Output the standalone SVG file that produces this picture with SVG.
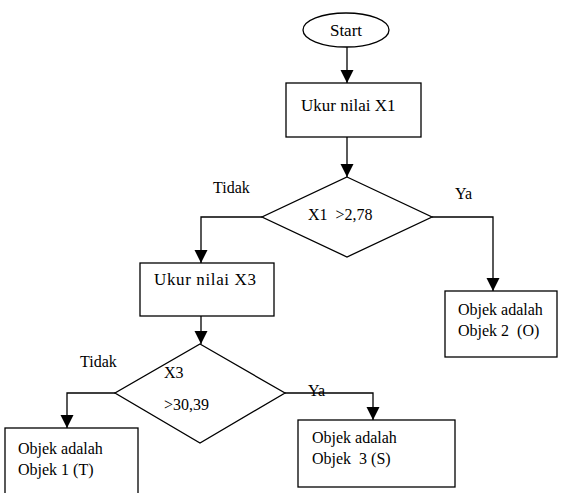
<svg xmlns="http://www.w3.org/2000/svg" width="563" height="493" viewBox="0 0 563 493">
<style>
.s{fill:#fff;stroke:#000;stroke-width:1.3}
.c{fill:none;stroke:#000;stroke-width:1.3;marker-end:url(#ah)}
.t{font-family:'Liberation Serif','Times New Roman',Times,serif;font-size:16px;fill:#000}
.b{font-size:17px}
</style>
<defs>
<marker id="ah" markerUnits="userSpaceOnUse" markerWidth="14" markerHeight="14" refX="13" refY="7" orient="auto">
<path d="M0,0.5 L13,7 L0,13.5 z" fill="#000"/>
</marker>
</defs>
<rect width="563" height="493" fill="#fff"/>
<g id="connectors">
<polyline class="c" points="347,47 347,83"/>
<polyline class="c" points="347,137 347,177"/>
<polyline class="c" points="262,217 201,217 201,263"/>
<polyline class="c" points="432,217 493,217 493,291"/>
<polyline class="c" points="201,316 201,344"/>
<polyline class="c" points="115,393 67,393 67,428"/>
<polyline class="c" points="285,393 373,393 373,420"/>
<text class="t" x="213" y="193">Tidak</text>
<text class="t" x="455" y="199">Ya</text>
<text class="t" x="80" y="367">Tidak</text>
<text class="t" x="308" y="396">Ya</text>
</g>
<g id="start">
<ellipse class="s" cx="346" cy="30" rx="43" ry="17"/>
<text class="t b" x="346" y="36" text-anchor="middle">Start</text>
</g>
<g id="ukur-x1">
<rect class="s" x="286" y="83" width="135" height="54"/>
<text class="t b" x="301" y="111">Ukur nilai X1</text>
</g>
<g id="decision-x1">
<polygon class="s" points="347,177 432,217 347,257 262,217"/>
<text class="t" x="308" y="220" xml:space="preserve">X1  &gt;2,78</text>
</g>
<g id="ukur-x3">
<rect class="s" x="140" y="263" width="134" height="53"/>
<text class="t b" x="154" y="285" textLength="102">Ukur nilai X3</text>
</g>
<g id="objek2">
<rect class="s" x="445" y="291" width="112" height="66"/>
<text class="t" x="458" y="315">Objek adalah</text>
<text class="t" x="458" y="336" xml:space="preserve">Objek 2  (O)</text>
</g>
<g id="decision-x3">
<polygon class="s" points="200,344 285,393 200,443 115,393"/>
<text class="t" x="164" y="378">X3</text>
<text class="t" x="164" y="410">&gt;30,39</text>
</g>
<g id="objek1">
<rect class="s" x="5" y="428" width="133" height="80"/>
<text class="t" x="18" y="454">Objek adalah</text>
<text class="t" x="18" y="475">Objek 1 (T)</text>
</g>
<g id="objek3">
<rect class="s" x="298" y="420" width="157" height="67"/>
<text class="t" x="312" y="443">Objek adalah</text>
<text class="t" x="312" y="464" xml:space="preserve">Objek  3 (S)</text>
</g>
</svg>
